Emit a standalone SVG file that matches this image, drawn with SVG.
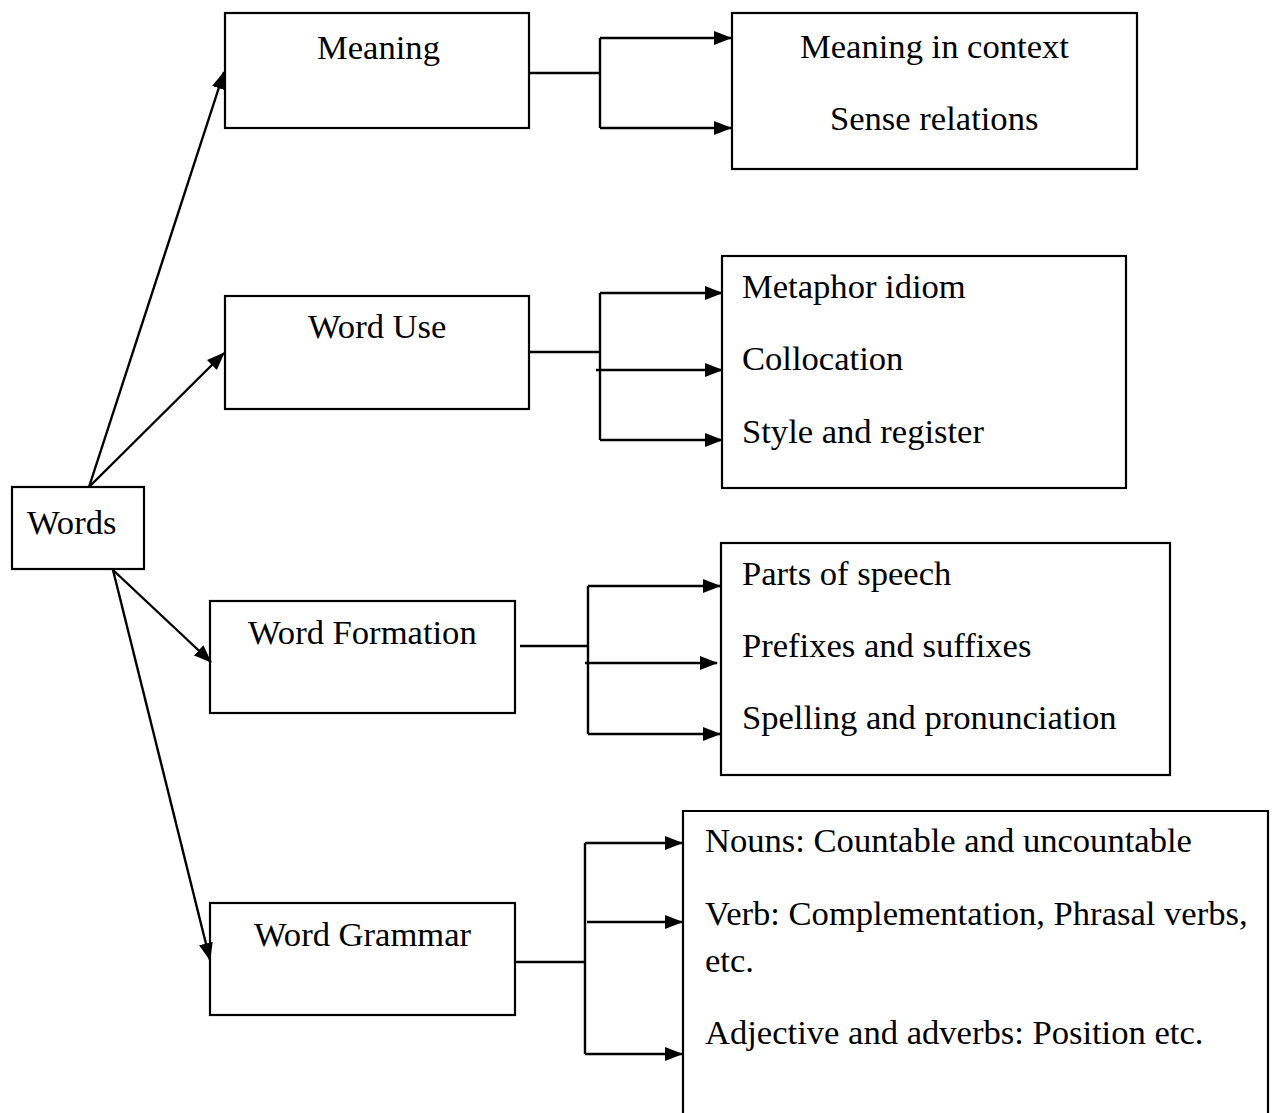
<svg xmlns="http://www.w3.org/2000/svg" width="1272" height="1113" viewBox="0 0 1272 1113">
<style>
.box{fill:#fff;stroke:#000;stroke-width:2.2}
.t{font-family:"Liberation Serif","Times New Roman",serif;font-size:34.6px;fill:#000}
.c{fill:none;stroke:#000;stroke-width:2.4}
</style>
<defs>
<marker id="ah" viewBox="0 0 18 14" refX="17" refY="7" markerWidth="18" markerHeight="14" markerUnits="userSpaceOnUse" orient="auto">
<path d="M0,0 L18,7 L0,14 z" fill="#000"/>
</marker>
</defs>
<rect width="1272" height="1113" fill="#fff"/>
<g id="words">
<rect class="box" x="12" y="487" width="132" height="82"/>
<text class="t" x="27" y="534">Words</text>
</g>
<g id="meaning">
<rect class="box" x="225" y="13" width="304" height="115"/>
<text class="t" x="317" y="59">Meaning</text>
</g>
<g id="meaning-list">
<rect class="box" x="732" y="13" width="405" height="156"/>
<text class="t" x="800" y="58">Meaning in context</text>
<text class="t" x="830" y="130">Sense relations</text>
</g>
<g id="word-use">
<rect class="box" x="225" y="296" width="304" height="113"/>
<text class="t" x="308" y="338">Word Use</text>
</g>
<g id="word-use-list">
<rect class="box" x="722" y="256" width="404" height="232"/>
<text class="t" x="742" y="298">Metaphor idiom</text>
<text class="t" x="742" y="370">Collocation</text>
<text class="t" x="742" y="443">Style and register</text>
</g>
<g id="word-formation">
<rect class="box" x="210" y="601" width="305" height="112"/>
<text class="t" x="248" y="644">Word Formation</text>
</g>
<g id="word-formation-list">
<rect class="box" x="721" y="543" width="449" height="232"/>
<text class="t" x="742" y="585">Parts of speech</text>
<text class="t" x="742" y="657">Prefixes and suffixes</text>
<text class="t" x="742" y="729">Spelling and pronunciation</text>
</g>
<g id="word-grammar">
<rect class="box" x="210" y="903" width="305" height="112"/>
<text class="t" x="254" y="946">Word Grammar</text>
</g>
<g id="word-grammar-list">
<path class="c" d="M683,1113 V811 H1268 V1113" style="stroke-width:2.2"/>
<text class="t" x="705" y="852">Nouns: Countable and uncountable</text>
<text class="t" x="705" y="925">Verb: Complementation, Phrasal verbs,</text>
<text class="t" x="705" y="972">etc.</text>
<text class="t" x="705" y="1044">Adjective and adverbs: Position etc.</text>
</g>
<g id="connectors">
<line class="c" x1="89" y1="487" x2="224" y2="72" marker-end="url(#ah)"/>
<line class="c" x1="89" y1="487" x2="224" y2="353" marker-end="url(#ah)"/>
<line class="c" x1="113" y1="570" x2="211" y2="662" marker-end="url(#ah)"/>
<line class="c" x1="113" y1="570" x2="210" y2="960" marker-end="url(#ah)"/>
<path class="c" d="M530,73 H600 M600,38 V128"/>
<line class="c" x1="600" y1="38" x2="731" y2="38" marker-end="url(#ah)"/>
<line class="c" x1="600" y1="128" x2="731" y2="128" marker-end="url(#ah)"/>
<path class="c" d="M530,352 H600 M600,293 V440"/>
<line class="c" x1="600" y1="293" x2="722" y2="293" marker-end="url(#ah)"/>
<line class="c" x1="596" y1="370" x2="722" y2="370" marker-end="url(#ah)"/>
<line class="c" x1="600" y1="440" x2="722" y2="440" marker-end="url(#ah)"/>
<path class="c" d="M520,646 H588 M588,586 V734"/>
<line class="c" x1="588" y1="586" x2="720" y2="586" marker-end="url(#ah)"/>
<line class="c" x1="585" y1="663" x2="717" y2="663" marker-end="url(#ah)"/>
<line class="c" x1="588" y1="734" x2="720" y2="734" marker-end="url(#ah)"/>
<path class="c" d="M516,962 H585 M585,843 V1054"/>
<line class="c" x1="585" y1="843" x2="682" y2="843" marker-end="url(#ah)"/>
<line class="c" x1="587" y1="922" x2="682" y2="922" marker-end="url(#ah)"/>
<line class="c" x1="585" y1="1054" x2="682" y2="1054" marker-end="url(#ah)"/>
</g>
</svg>
